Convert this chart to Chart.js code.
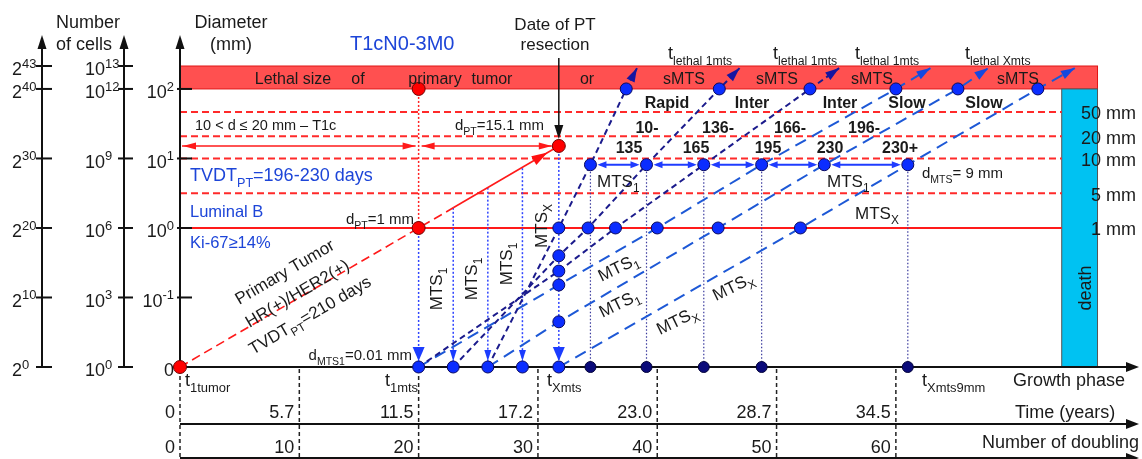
<!DOCTYPE html>
<html><head><meta charset="utf-8">
<script src="https://cdn.jsdelivr.net/npm/chart.js@4.4.1/dist/chart.umd.min.js"></script>
<style>html,body{margin:0;padding:0;background:#fff;}#wrap{width:1142px;height:459px;}</style>
</head><body><div id="wrap"><canvas id="c" width="1142" height="459"></canvas></div>
<script>
// ---------------- data (x = number of doublings, y = log10 diameter in mm) ----------------
const doublingTicks = [0, 10, 20, 30, 40, 50, 60];
const timeLabels = ['0', '5.7', '11.5', '17.2', '23.0', '28.7', '34.5'];
const diamTicks = [-2, -1, 0, 1, 2];
const diamLabels = ['0', '10^{-1}', '10^{0}', '10^{1}', '10^{2}'];
const cellTicks = [-2, -1, 0, 1, 2, 2.33];
const cellLabels10 = ['10^{0}', '10^{3}', '10^{6}', '10^{9}', '10^{12}', '10^{13}'];
const cellLabels2 = ['2^{0}', '2^{10}', '2^{20}', '2^{30}', '2^{40}', '2^{43}'];
const sizeLineLogD = [1.67, 1.32, 1.0, 0.5];
const sizeLabelLogD = [1.67, 1.32, 1.0, 0.5, 0];
const sizeLabels = ['50', '20', '10', '5', '1'];
const lethalLogD = 2, bandTopLogD = 2.33;
const deathStart = 73.9, deathEnd = 76.9;
const ptDashX = [0, 20, 22.9], ptDashY = [-2, 0, 0.29];
const ptSolidX = [22.9, 31.75], ptSolidY = [0.29, 1.18];
const redDotX = [0, 20, 20, 31.75], redDotY = [-2, 0, 2, 1.18];
const seedX = [20, 22.9, 25.8, 28.7, 31.75];
const seedY = [0, 0.29, 0.58, 0.86, 1.18];
const resectX = 31.75, resectY = 1.18;
const t1x = [25.8, 31.75, 34.4, 37.4, 38.3],        t1y = [-2, 0, 0.91, 2, 2.3];
const t2x = [22.9, 31.75, 34.2, 39.1, 45.2, 46.9],  t2y = [-2, -0.4, 0, 0.91, 2, 2.3];
const t3x = [20, 31.75, 36.5, 43.9, 52.8, 55.25],   t3y = [-2, -0.62, 0, 0.91, 2, 2.3];
const t4x = [20, 31.75, 40, 48.75, 60, 62.9],       t4y = [-2, -0.82, 0, 0.91, 2, 2.3];
const t5x = [25.8, 31.75, 45.1, 54, 65.2, 67.75],   t5y = [-2, -1.35, 0, 0.91, 2, 2.3];
const t6x = [31.75, 52, 61, 71.9, 75],              t6y = [-2, 0, 0.91, 2, 2.3];
const dropX = [34.4, 39.1, 43.9, 48.75, 61];
const nineMmX = [34.4, 39.1, 43.9, 48.75, 54, 61];
const nineMmY = 0.91;

// ---------------- styling ----------------
const NAVY = '#1b1b8c', BLUE = '#1d58d6', TXT = '#1a1a1a', BTXT = '#1d45d8';
const FAM = '"Liberation Sans", Arial, sans-serif';
const trajs = [
  [t1x, t1y, NAVY, [6, 4]], [t2x, t2y, NAVY, [6, 4]], [t3x, t3y, NAVY, [6, 4]],
  [t4x, t4y, BLUE, [12, 7]], [t5x, t5y, BLUE, [12, 7]], [t6x, t6y, BLUE, [12, 7]]
];
const pts = (xs, ys) => xs.map((x, i) => ({x, y: Array.isArray(ys) ? ys[i] : ys}));
let bluePts = pts(seedX, -2);
trajs.forEach(t => { bluePts = bluePts.concat(pts(t[0].slice(1, -1), t[1].slice(1, -1))); });

function rich(ctx, s, x, y, o) {
  o = Object.assign({size: 18, color: TXT, align: 'left', bold: false, rot: 0, sub: 0.7}, o || {});
  const segs = []; const re = /([_^])\{([^}]*)\}/g; let last = 0, m;
  while ((m = re.exec(s))) { if (m.index > last) segs.push({t: s.slice(last, m.index), k: ''}); segs.push({t: m[2], k: m[1]}); last = re.lastIndex; }
  if (last < s.length) segs.push({t: s.slice(last), k: ''});
  const f = sz => (o.bold ? 'bold ' : '') + sz + 'px ' + FAM;
  let W = 0;
  segs.forEach(g => { g.sz = g.k ? o.size * o.sub : o.size; ctx.font = f(g.sz); g.w = ctx.measureText(g.t).width; W += g.w; });
  ctx.save(); ctx.translate(x, y); if (o.rot) ctx.rotate(o.rot * Math.PI / 180);
  let cx = o.align === 'left' ? 0 : o.align === 'right' ? -W : -W / 2;
  const base = o.size * 0.36;
  ctx.fillStyle = o.color; ctx.textBaseline = 'alphabetic'; ctx.textAlign = 'left';
  segs.forEach(g => {
    ctx.font = f(g.sz);
    const dy = base + (g.k === '_' ? o.size * 0.28 : g.k === '^' ? -o.size * 0.42 : 0);
    ctx.fillText(g.t, cx, dy); cx += g.w;
  });
  ctx.restore();
}
function head(ctx, x1, y1, x2, y2, len, w, color) {
  const a = Math.atan2(y2 - y1, x2 - x1);
  ctx.save(); ctx.translate(x2, y2); ctx.rotate(a);
  ctx.beginPath(); ctx.moveTo(0, 0); ctx.lineTo(-len, w / 2); ctx.lineTo(-len, -w / 2); ctx.closePath();
  ctx.fillStyle = color; ctx.fill(); ctx.restore();
}
function seg(ctx, x1, y1, x2, y2, color, w, dash) {
  ctx.save(); ctx.strokeStyle = color; ctx.lineWidth = w; ctx.setLineDash(dash || []);
  ctx.beginPath(); ctx.moveTo(x1, y1); ctx.lineTo(x2, y2); ctx.stroke(); ctx.restore();
}

const backPlugin = {
  id: 'back',
  beforeDatasetsDraw(chart) {
    const ctx = chart.ctx, xs = chart.scales.x, ys = chart.scales.y;
    const X = v => xs.getPixelForValue(v), Y = v => ys.getPixelForValue(v);
    const y0 = Y(-2);
    // lethal band
    ctx.fillStyle = '#ff5050';
    ctx.fillRect(X(0), Y(bandTopLogD), X(deathEnd) - X(0), Y(lethalLogD) - Y(bandTopLogD));
    ctx.strokeStyle = '#e01515'; ctx.lineWidth = 1;
    ctx.strokeRect(X(0), Y(bandTopLogD), X(deathEnd) - X(0), Y(lethalLogD) - Y(bandTopLogD));
    // death bar
    ctx.fillStyle = '#00c2f2';
    ctx.fillRect(X(deathStart), Y(lethalLogD), X(deathEnd) - X(deathStart), y0 - Y(lethalLogD));
    ctx.strokeStyle = '#555'; ctx.strokeRect(X(deathStart), Y(lethalLogD), X(deathEnd) - X(deathStart), y0 - Y(lethalLogD));
    // size lines
    sizeLineLogD.forEach(L => seg(ctx, X(0), Y(L), X(deathStart), Y(L), '#ff2a2a', 2, [7, 4]));
    seg(ctx, X(0), Y(0), X(deathStart), Y(0), '#ff1a1a', 2);
    // verticals
    seg(ctx, X(20), Y(2), X(20), Y(0), '#ff2020', 1.5, [2, 2]);
    seedX.forEach((x, i) => seg(ctx, X(x), Y(seedY[i]), X(x), y0, '#2f45ff', 1.5, [2, 2]));
    dropX.forEach(x => seg(ctx, X(x), Y(nineMmY), X(x), y0, '#3b3b9e', 1.2, [1.5, 2]));
    // axes
    ctx.fillStyle = '#111';
    [42, 124, X(0)].forEach(ax => {
      seg(ctx, ax, y0, ax, 48, '#111', 2);
      head(ctx, ax, 60, ax, 35, 14, 9, '#111');
    });
    cellTicks.forEach(L => { seg(ctx, 36, Y(L), 52, Y(L), '#111', 2); seg(ctx, 118, Y(L), 133, Y(L), '#111', 2); });
    diamTicks.forEach(L => seg(ctx, X(0) - 3, Y(L), X(0) + 12, Y(L), '#111', 2));
    // growth phase axis & table
    seg(ctx, X(0), y0, 1128, y0, '#111', 2); head(ctx, 1100, y0, 1139, y0, 13, 10, '#111');
    seg(ctx, X(0), 424, 1128, 424, '#111', 2); head(ctx, 1100, 424, 1139, 424, 13, 10, '#111');
    seg(ctx, X(0), 458, 1128, 458, '#111', 2); head(ctx, 1100, 458, 1139, 458, 13, 10, '#111');
    doublingTicks.forEach(d => seg(ctx, X(d), y0 + 2, X(d), 459, '#222', 1.5, [4, 3]));
  }
};

const frontPlugin = {
  id: 'front',
  afterDatasetsDraw(chart) {
    const ctx = chart.ctx, xs = chart.scales.x, ys = chart.scales.y;
    const X = v => xs.getPixelForValue(v), Y = v => ys.getPixelForValue(v);
    const y0 = Y(-2);
    // trajectory tips
    trajs.forEach(t => {
      const n = t[0].length;
      head(ctx, X(t[0][n - 2]), Y(t[1][n - 2]), X(t[0][n - 1]), Y(t[1][n - 1]), 14, 9, t[2] === NAVY ? '#1515a0' : '#1448e0');
    });
    // primary tumor arrow
    {
      const xa = X(ptSolidX[0]), ya = Y(ptSolidY[0]), xb = X(resectX), yb = Y(resectY);
      const d = Math.hypot(xb - xa, yb - ya), k = (d - 13) / d;
      head(ctx, xa, ya, xa + (xb - xa) * k, ya + (yb - ya) * k, 16, 10, '#ff1010');
    }
    // red double arrows at d = 15.1 mm
    const yr = Y(resectY);
    seg(ctx, X(0) + 2, yr, X(20) - 3, yr, '#ff1a1a', 1.5);
    seg(ctx, X(20) + 3, yr, X(resectX) - 7, yr, '#ff1a1a', 1.5);
    head(ctx, X(10), yr, X(0) + 3, yr, 13, 7, '#ff1a1a');
    head(ctx, X(10), yr, X(20) - 3, yr, 13, 7, '#ff1a1a');
    head(ctx, X(25), yr, X(20) + 3, yr, 13, 7, '#ff1a1a');
    head(ctx, X(25), yr, X(resectX) - 7, yr, 13, 7, '#ff1a1a');
    // resection arrow
    seg(ctx, X(resectX), 58, X(resectX), 132, '#111', 1.5);
    head(ctx, X(resectX), 100, X(resectX), yr - 7, 14, 9, '#111');
    // blue double arrows at 9 mm
    const y9 = Y(nineMmY);
    for (let i = 0; i < nineMmX.length - 1; i++) {
      const a = X(nineMmX[i]) + 7, b = X(nineMmX[i + 1]) - 7;
      seg(ctx, a + 3, y9, b - 3, y9, '#1f3cff', 2);
      head(ctx, b, y9, a, y9, 9, 7, '#1f3cff');
      head(ctx, a, y9, b, y9, 9, 7, '#1f3cff');
    }
    // seeding arrowheads
    seedX.forEach((x, i) => {
      const big = (i === 0 || i === seedX.length - 1);
      head(ctx, X(x), y0 - 40, X(x), y0 - 6, big ? 14 : 11, big ? 12 : 7, '#1b3cff');
    });

    // ---- texts ----
    rich(ctx, 'Number', 88, 22, {align: 'center'});
    rich(ctx, 'of cells', 84, 44, {align: 'center'});
    rich(ctx, 'Diameter', 231, 22, {align: 'center'});
    rich(ctx, '(mm)', 231, 44, {align: 'center'});
    rich(ctx, 'T1cN0-3M0', 350, 43, {size: 20, color: BTXT});
    rich(ctx, 'Date of PT', 555, 24, {size: 17, align: 'center'});
    rich(ctx, 'resection', 555, 44, {size: 17, align: 'center'});
    [['t_{lethal 1mts}', 668], ['t_{lethal 1mts}', 773], ['t_{lethal 1mts}', 855], ['t_{lethal Xmts}', 965]]
      .forEach(a => rich(ctx, a[0], a[1], 53, {size: 18, sub: 0.68}));
    [['Lethal size', 293], ['of', 358], ['primary', 435], ['tumor', 492], ['or', 587],
     ['sMTS', 684], ['sMTS', 777], ['sMTS', 872], ['sMTS', 1018]]
      .forEach(a => rich(ctx, a[0], a[1], 78, {size: 16, align: 'center'}));
    [['Rapid', 667, 102], ['Inter', 752, 102], ['Inter', 840, 102], ['Slow', 907, 102], ['Slow', 984, 102],
     ['10-', 647, 127], ['136-', 718, 127], ['166-', 790, 127], ['196-', 864, 127],
     ['135', 629, 147], ['165', 696, 147], ['195', 768, 147], ['230', 830, 147], ['230+', 900, 147]]
      .forEach(a => rich(ctx, a[0], a[1], a[2], {size: 16, bold: true, align: 'center'}));
    rich(ctx, '10 < d ≤ 20 mm – T1c', 195, 125, {size: 14.5});
    rich(ctx, 'd_{PT}=15.1 mm', 455, 125, {size: 15});
    rich(ctx, 'TVDT_{PT}=196-230 days', 190, 175, {size: 18, color: BTXT});
    rich(ctx, 'Luminal B', 190, 211, {size: 16.5, color: BTXT});
    rich(ctx, 'Ki-67≥14%', 190, 242, {size: 16.5, color: BTXT});
    rich(ctx, 'd_{PT}=1 mm', 414, 219, {size: 15, align: 'right'});
    rich(ctx, 'd_{MTS1}=0.01 mm', 412, 355, {size: 15, align: 'right'});
    [['Primary Tumor', 284.4, 271.4], ['HR(+)/HER2(+)', 297, 293], ['TVDT_{PT}=210 days', 309.6, 314.6]]
      .forEach(a => rich(ctx, a[0], a[1], a[2], {size: 17, align: 'center', rot: -30.4}));
    rich(ctx, 'MTS_{1}', 597, 181, {size: 17});
    rich(ctx, 'MTS_{1}', 827, 181, {size: 17});
    rich(ctx, 'd_{MTS}= 9 mm', 922, 173, {size: 15});
    rich(ctx, 'MTS_{X}', 855, 213, {size: 17});
    [['MTS_{1}', 618, 267], ['MTS_{1}', 619, 303], ['MTS_{X}', 677, 320], ['MTS_{X}', 733, 286]]
      .forEach(a => rich(ctx, a[0], a[1], a[2], {size: 17, align: 'center', rot: -26}));
    [['MTS_{1}', 436, 289], ['MTS_{1}', 471, 279], ['MTS_{1}', 506, 264], ['MTS_{X}', 541, 226]]
      .forEach(a => rich(ctx, a[0], a[1], a[2], {size: 17, align: 'center', rot: -90}));
    rich(ctx, 'death', 1085, 288, {size: 18, align: 'center', rot: -90});
    sizeLabelLogD.forEach((L, i) => { rich(ctx, sizeLabels[i], 1101, Y(L) + 1, {align: 'right'}); rich(ctx, 'mm', 1106, Y(L) + 1); });
    // axis labels
    cellTicks.forEach((L, i) => {
      rich(ctx, cellLabels2[i], 12, Y(L) + 3, {sub: 0.72});
      rich(ctx, cellLabels10[i], 85, Y(L) + 3, {sub: 0.72});
    });
    diamTicks.forEach((L, i) => rich(ctx, diamLabels[i], 174, Y(L) + 3, {align: 'right', sub: 0.72}));
    // bottom
    rich(ctx, 't_{1tumor}', 185, 380, {sub: 0.72});
    rich(ctx, 't_{1mts}', 385, 380, {sub: 0.72});
    rich(ctx, 't_{Xmts}', 547, 380, {sub: 0.72});
    rich(ctx, 't_{Xmts9mm}', 922, 380, {sub: 0.72});
    rich(ctx, 'Growth phase', 1013, 380);
    doublingTicks.forEach((d, i) => {
      rich(ctx, timeLabels[i], X(d) - 5, 412, {align: 'right'});
      rich(ctx, String(d), X(d) - 5, 447, {align: 'right'});
    });
    rich(ctx, 'Time (years)', 1015, 412);
    rich(ctx, 'Number of doubling', 982, 442);
  }
};

const datasets = [
  {data: pts(redDotX, redDotY), pointRadius: 6.5, pointBackgroundColor: '#ff0000', pointBorderColor: '#700000', pointBorderWidth: 1, showLine: false, clip: false},
  {data: bluePts, pointRadius: 6, pointBackgroundColor: '#0b2dff', pointBorderColor: '#0a0a60', pointBorderWidth: 1, showLine: false, clip: false},
  {data: pts(dropX, -2), pointRadius: 5.5, pointBackgroundColor: '#0a0a7a', pointBorderColor: '#05053a', pointBorderWidth: 1, showLine: false, clip: false},
  {data: pts(ptDashX, ptDashY), showLine: true, borderColor: '#ff1a1a', borderWidth: 1.6, borderDash: [9, 5], pointRadius: 0, clip: false},
  {data: pts(ptSolidX, ptSolidY), showLine: true, borderColor: '#ff1a1a', borderWidth: 1.6, pointRadius: 0, clip: false}
];
trajs.forEach(t => datasets.push({data: pts(t[0], t[1]), showLine: true, borderColor: t[2], borderWidth: 2, borderDash: t[3], pointRadius: 0, clip: false}));

new Chart(document.getElementById('c'), {
  type: 'scatter',
  data: {datasets},
  options: {
    responsive: false, animation: false, events: [],
    layout: {padding: {left: 180, right: 2, top: 66, bottom: 92}},
    scales: {
      x: {type: 'linear', min: 0, max: 80, display: false},
      y: {type: 'linear', min: -2, max: 2.33, display: false}
    },
    plugins: {legend: {display: false}, tooltip: {enabled: false}}
  },
  plugins: [backPlugin, frontPlugin]
});
</script></body></html>
